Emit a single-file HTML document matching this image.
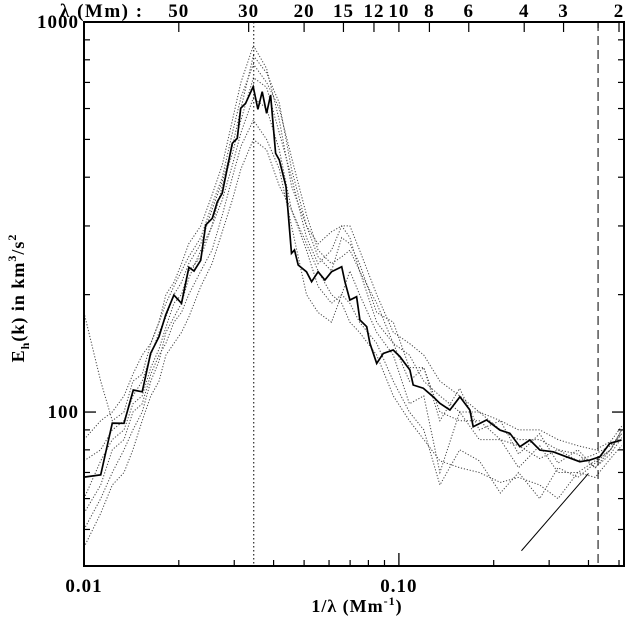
<!DOCTYPE html>
<html><head><meta charset="utf-8"><style>
html,body{margin:0;padding:0;background:#fff}
svg{display:block}
text{font-family:"Liberation Serif",serif;font-weight:bold;fill:#000}
</style></head><body>
<svg id="chart" width="625" height="620" viewBox="0 0 625 620" xmlns="http://www.w3.org/2000/svg">
<g id="marks"></g>
<g id="axes"></g>
<text x="60" y="17" font-size="19" letter-spacing="1.5">λ (Mm) :</text>
<text x="357" y="612" font-size="18" text-anchor="middle" letter-spacing="1">1/λ (Mm<tspan dy="-7" font-size="12">-1</tspan><tspan dy="7">)</tspan></text>
<text transform="translate(24,298) rotate(-90)" font-size="18" text-anchor="middle" letter-spacing="1">E<tspan dy="5" font-size="12">h</tspan><tspan dy="-5">(k) in km</tspan><tspan dy="-8" font-size="12">3</tspan><tspan dy="8">/s</tspan><tspan dy="-8" font-size="12">2</tspan></text>
</svg>
<script>
// ---- data ----
const solidK = [0.0100,0.0113,0.0123,0.0134,0.01434,0.0153,0.01628,0.0173,0.01817,0.0193,0.0204,0.02154,0.02235,0.02347,0.02434,0.02555,0.0265,0.02748,0.02957,0.03067,0.03145,0.0326,0.03447,0.03567,0.0368,0.0380,0.03914,0.0406,0.0417,0.0438,0.0456,0.0466,0.0479,0.0509,0.0528,0.0554,0.0582,0.0611,0.0658,0.0674,0.0699,0.0734,0.0752,0.0790,0.0809,0.0850,0.0892,0.0959,0.1007,0.1084,0.1110,0.1195,0.1285,0.1350,0.1452,0.1562,0.168,0.1722,0.1898,0.2093,0.2251,0.2422,0.2606,0.2803,0.3090,0.3407,0.3755,0.4040,0.4346,0.4676,0.5093];
const solidE = [68.1,69.0,93.7,93.6,113.9,112.7,141.4,156.0,177.4,199.5,190.0,235,230,245,301.6,313.8,346,363.8,488.7,503.4,600.7,618.9,682.5,597.3,662.8,583.2,649.9,460.6,443,378.2,255.3,260.3,238.2,228.9,215.9,228.9,218.1,228.9,235.9,215.9,193.8,197.6,172.2,165.5,150.1,133.3,141.4,144.2,138.7,128.2,117.3,115.1,109.4,105.3,101.2,109.4,101.2,91.7,95.4,89.9,88.2,81.5,84.8,79.9,79.1,76.8,74.6,75.3,76.8,83.1,84.8];
const dotK = [0.0100,0.0113,0.0123,0.0134,0.0143,0.0153,0.0163,0.0173,0.0182,0.0193,0.0204,0.0215,0.0235,0.0255,0.0275,0.0296,0.0315,0.0345,0.038,0.0417,0.0456,0.0509,0.0554,0.0611,0.0658,0.0699,0.075,0.085,0.096,0.108,0.12,0.135,0.156,0.18,0.21,0.24,0.28,0.32,0.37,0.42,0.47,0.51];
const dot1 = [180,120,95,100,120,125,150,170,200,215,240,270,300,360,430,560,700,870,760,560,380,300,270,290,300,280,230,170,150,120,130,95,115,90,95,78,88,74,80,72,80,88];
const dot2 = [50,60,70,80,90,100,120,135,160,175,190,220,260,300,350,430,520,640,600,470,330,260,210,190,200,230,200,160,140,105,110,70,100,85,85,72,82,70,70,75,80,90];
const dot3 = [85,95,100,110,125,140,150,170,190,210,230,250,280,340,400,520,640,780,700,600,450,320,260,240,250,260,230,190,150,140,120,110,100,100,90,85,85,80,78,72,78,86];
const dot4 = [55,65,80,85,100,105,125,140,150,170,180,200,230,260,320,400,480,560,500,420,300,200,180,170,200,190,170,150,120,100,90,65,80,75,62,70,60,72,68,74,80,90];
const dot5 = [60,75,85,90,105,110,130,145,165,190,200,230,250,300,380,460,560,720,680,520,400,280,240,260,300,300,260,200,160,150,140,120,110,100,95,90,90,85,82,80,84,92];
const dot6 = [45,55,65,70,80,95,110,120,140,150,160,175,210,240,290,350,420,500,470,380,330,270,230,200,190,170,160,140,110,95,85,75,72,70,66,68,65,60,70,68,76,82];
const dot7 = [75,80,90,95,110,120,140,160,175,200,215,240,270,330,390,480,600,820,740,620,420,300,250,230,280,270,240,180,170,130,130,100,95,95,85,82,76,80,75,78,82,88];
const slopeK = [0.245,0.40];
const slopeE = [44.1,69.6];
const peakK = 0.0346;
const cutoffK = 0.429;
const topLambda = [50,30,20,15,12,10,8,6,4,3,2];
const xMajor = [0.01,0.1];
const xMajorLabels = ["0.01","0.10"];
const xMinor = [0.02,0.03,0.04,0.05,0.06,0.07,0.08,0.09,0.2,0.3,0.4,0.5];
const yMajor = [100,1000];
const yMajorLabels = ["100","1000"];
const yMinor = [50,60,70,80,90,200,300,400,500,600,700,800,900];

// ---- axes ----
const L=84,R=624,T=22,B=566;
const xmin=0.01,xmax=0.5186,ymin=40.3,ymax=1000;
const X=k=>L+(Math.log10(k)-Math.log10(xmin))/(Math.log10(xmax)-Math.log10(xmin))*(R-L);
const Y=e=>T+(Math.log10(ymax)-Math.log10(e))/(Math.log10(ymax)-Math.log10(ymin))*(B-T);
const NS="http://www.w3.org/2000/svg";
const marks=document.getElementById('marks'), axes=document.getElementById('axes');
function mk(tag,attrs,parent){const e=document.createElementNS(NS,tag);for(const a in attrs)e.setAttribute(a,attrs[a]);parent.appendChild(e);return e;}
function pts(ks,es){return ks.map((k,i)=>X(k).toFixed(1)+','+Y(es[i]).toFixed(1)).join(' ');}

const dots=[dot1,dot2,dot3,dot4,dot5,dot6,dot7];
dots.forEach((d,i)=>{
  const p=mk('polyline',{points:pts(dotK,d),fill:'none',stroke:'#444','stroke-width':1,'stroke-dasharray':'1.2,1.8'},marks);
  
  
});
const sol=mk('polyline',{points:pts(solidK,solidE),fill:'none',stroke:'#000','stroke-width':1.7},marks);


const sl=mk('line',{x1:X(slopeK[0]),y1:Y(slopeE[0]),x2:X(slopeK[1]),y2:Y(slopeE[1]),stroke:'#000','stroke-width':1},marks);


const pk=mk('line',{x1:X(peakK),y1:T,x2:X(peakK),y2:B,stroke:'#000','stroke-width':1,'stroke-dasharray':'1.5,2.5'},marks);


const co=mk('line',{x1:X(cutoffK),y1:T,x2:X(cutoffK),y2:B,stroke:'#000','stroke-width':1,'stroke-dasharray':'9,5'},marks);



const fr=mk('rect',{x:L,y:T,width:R-L,height:B-T,fill:'none',stroke:'#000','stroke-width':2},axes);



xMajor.forEach((k,i)=>{
  const x=X(k);
  mk('line',{x1:x,y1:B,x2:x,y2:B-13,stroke:'#000','stroke-width':1.3},axes);
  const t=mk('text',{x:x,y:592,'text-anchor':'middle','font-size':19,'letter-spacing':1},axes);
  t.textContent=xMajorLabels[i];
  
  
});
xMinor.forEach(k=>{const x=X(k);mk('line',{x1:x,y1:B,x2:x,y2:B-6,stroke:'#000','stroke-width':1.2},axes);});
yMajor.forEach((e,i)=>{
  const y=Y(e);
  mk('line',{x1:L,y1:y,x2:L+12,y2:y,stroke:'#000','stroke-width':1.3},axes);
  mk('line',{x1:R,y1:y,x2:R-12,y2:y,stroke:'#000','stroke-width':1.3},axes);
  const t=mk('text',{x:79,y:y+6,'text-anchor':'end','font-size':19,'letter-spacing':1},axes);
  t.textContent=yMajorLabels[i];
  
  
});
yMinor.forEach(e=>{const y=Y(e);
  mk('line',{x1:L,y1:y,x2:L+6,y2:y,stroke:'#000','stroke-width':1.2},axes);
  mk('line',{x1:R,y1:y,x2:R-6,y2:y,stroke:'#000','stroke-width':1.2},axes);});
topLambda.forEach(l=>{
  const x=X(1/l);
  mk('line',{x1:x,y1:T,x2:x,y2:T+10,stroke:'#000','stroke-width':1.2},axes);
  const t=mk('text',{x:x,y:17,'text-anchor':'middle','font-size':19,'letter-spacing':1},axes);
  t.textContent=String(l);
  
  
});
mk('line',{x1:X(cutoffK),y1:T,x2:X(cutoffK),y2:T+6,stroke:'#000','stroke-width':1.2},axes);
</script>
</body></html>
